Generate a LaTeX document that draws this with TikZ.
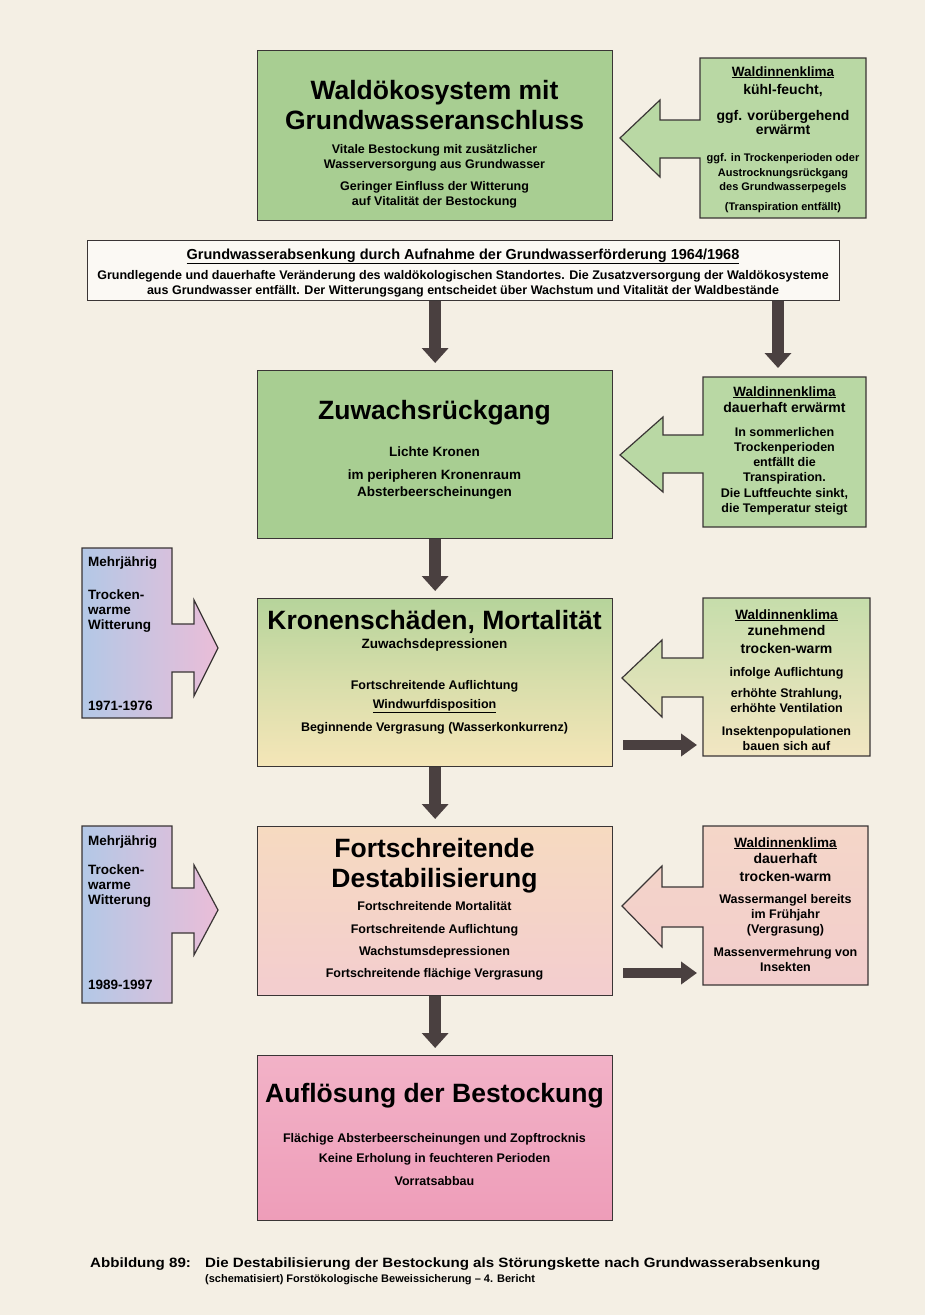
\documentclass[tikz,border=0pt]{standalone}
\usepackage{fontspec}
\setmainfont{Liberation Sans}
\newfontfamily\capfont[FakeStretch=1.12]{Liberation Sans}
\usetikzlibrary{arrows.meta,calc}
\newcommand\fsz[1]{\fontsize{#1}{#1}\selectfont}
\newcommand\TL[5]{\node[anchor=base,inner sep=0pt,#4] (#1) at (#2,#3) {#5};}
\definecolor{bgc}{HTML}{F4EFE4}
\definecolor{bordc}{HTML}{3A3535}
\definecolor{arrc}{HTML}{4A4040}
\definecolor{grA}{HTML}{A8CE92}
\definecolor{grB}{HTML}{B9D8A4}
\definecolor{grC}{HTML}{B6D49B}
\definecolor{ylC}{HTML}{F5E6B8}
\definecolor{grD}{HTML}{C6DDAB}
\definecolor{ylD}{HTML}{F2E6C2}
\definecolor{pkA}{HTML}{F6DAC0}
\definecolor{pkB}{HTML}{F3CDCF}
\definecolor{pkC}{HTML}{F4D6C8}
\definecolor{pkD}{HTML}{F2CDCC}
\definecolor{roA}{HTML}{F2B2C7}
\definecolor{roB}{HTML}{EE9DB9}
\definecolor{blL}{HTML}{B3C8E6}
\definecolor{piR}{HTML}{EABDD8}
\begin{document}
\begin{tikzpicture}[x=1pt,y=-1pt,
  box/.style={draw=bordc,line width=1.3pt,rectangle,inner sep=0pt,anchor=north west},
  shp/.style={draw=bordc,line width=1.2pt,line join=miter},
  ttl/.style={font=\fsz{26.5}\bfseries},
  hd/.style={font=\fsz{14}\bfseries},
  md/.style={font=\fsz{13.5}\bfseries},
  sm/.style={font=\fsz{12.5}\bfseries},
  xs/.style={font=\fsz{11}\bfseries},
  captxt/.style={font=\capfont\fsz{13.5}\bfseries},
  darr/.style={draw=arrc,line width=12pt,-{Triangle[width=26pt,length=15pt]}},
  harr/.style={draw=arrc,line width=10pt,-{Triangle[width=22pt,length=16pt]}}]
\useasboundingbox (0,0) rectangle (925,1315);
\fill[bgc] (0,0) rectangle (925,1315);

% ---------- main boxes ----------
\node[box,fill=grA,minimum width=355,minimum height=170] (b1) at (257,50) {};
\node[box,fill=bgc!40!white,minimum width=752,minimum height=60] (wb) at (87,240) {};
\node[box,fill=grA,minimum width=355,minimum height=168] (b2) at (257,370) {};
\node[box,top color=grC,bottom color=ylC,middle color=ylC!55!grC,minimum width=355,minimum height=168] (b3) at (257,598) {};
\node[box,top color=pkA,bottom color=pkB,minimum width=355,minimum height=169] (b4) at (257,826) {};
\node[box,top color=roA,bottom color=roB,minimum width=355,minimum height=165] (b5) at (257,1055) {};

% ---------- right boxes with arrows ----------
\path[shp,fill=grB] (700,58) -- (866,58) -- (866,218) -- (700,218) -- (700,158) -- (660,158) -- (660,177) -- (620,138) -- (660,100) -- (660,120) -- (700,120) -- cycle;
\path[shp,fill=grB] (703,377) -- (866,377) -- (866,527) -- (703,527) -- (703,473) -- (663,473) -- (663,492) -- (620,455) -- (663,417) -- (663,435) -- (703,435) -- cycle;
\path[shp,top color=grD,bottom color=ylD] (703,598) -- (870,598) -- (870,756) -- (703,756) -- (703,697) -- (662,697) -- (662,717) -- (622,678) -- (662,640) -- (662,658) -- (703,658) -- cycle;
\path[shp,top color=pkC,bottom color=pkD] (703,826) -- (868,826) -- (868,985) -- (703,985) -- (703,927) -- (662,927) -- (662,947) -- (622,906) -- (662,866) -- (662,887) -- (703,887) -- cycle;

% ---------- left boxes with arrows ----------
\path[shp,left color=blL,right color=piR] (82,548) -- (172,548) -- (172,624) -- (194,624) -- (194,600) -- (218,648) -- (194,696) -- (194,672) -- (172,672) -- (172,718) -- (82,718) -- cycle;
\path[shp,left color=blL,right color=piR] (82,826) -- (172,826) -- (172,888) -- (194,888) -- (194,865) -- (218,910) -- (194,955) -- (194,933) -- (172,933) -- (172,1003) -- (82,1003) -- cycle;

% ---------- connectors ----------
\coordinate (rb2n) at (778,377);
\coordinate (h3) at (697,745);
\coordinate (h4) at (697,973);
\draw[darr] (wb.south -| b2.north) -- ($(b2.north)+(0,-7)$);
\draw[darr] (wb.south -| rb2n) -- ($(rb2n)+(0,-9)$);
\draw[darr] (b2.south) -- ($(b3.north)+(0,-7)$);
\draw[darr] (b3.south) -- ($(b4.north)+(0,-7)$);
\draw[darr] (b4.south) -- ($(b5.north)+(0,-7)$);
\draw[harr,shorten <=10pt] (b3.east |- h3) -- (h3);
\draw[harr,shorten <=10pt] (b4.east |- h4) -- (h4);

% ---------- texts: box 1 ----------
\TL{t11}{434.5}{99}{ttl}{Waldökosystem mit}
\TL{t12}{434.5}{129}{ttl}{Grundwasseranschluss}
\TL{t13}{434.5}{153}{sm}{Vitale Bestockung mit zusätzlicher}
\TL{t14}{434.5}{168}{sm}{Wasserversorgung aus Grundwasser}
\TL{t15}{434.5}{190}{sm}{Geringer Einfluss der Witterung}
\TL{t16}{434.5}{205}{sm}{auf Vitalität der Bestockung}
% right box 1
\TL{r11}{783}{76}{md}{\underline{Waldinnenklima}}
\TL{r12}{783}{94}{hd}{kühl-feucht,}
\TL{r13}{783}{120}{hd}{ggf. vorübergehend}
\TL{r14}{783}{134}{hd}{erwärmt}
\TL{r15}{783}{161}{xs}{ggf. in Trockenperioden oder}
\TL{r16}{783}{176}{xs}{Austrocknungsrückgang}
\TL{r17}{783}{190}{xs}{des Grundwasserpegels}
\TL{r18}{783}{210}{xs}{(Transpiration entfällt)}

% wide box
\TL{w1}{463}{259}{hd,font=\fsz{14.5}\bfseries}{\underline{Grundwasserabsenkung durch Aufnahme der Grundwasserförderung 1964/1968}}
\TL{w2}{463}{279}{sm}{Grundlegende und dauerhafte Veränderung des waldökologischen Standortes. Die Zusatzversorgung der Waldökosysteme}
\TL{w3}{463}{294}{sm}{aus Grundwasser entfällt. Der Witterungsgang entscheidet über Wachstum und Vitalität der Waldbestände}

% box 2
\TL{t21}{434.5}{419}{ttl}{Zuwachsrückgang}
\TL{t22}{434.5}{456}{md}{Lichte Kronen}
\TL{t23}{434.5}{479}{md}{im peripheren Kronenraum}
\TL{t24}{434.5}{496}{md}{Absterbeerscheinungen}
% right box 2
\TL{r21}{784.5}{396}{md}{\underline{Waldinnenklima}}
\TL{r22}{784.5}{412}{hd}{dauerhaft erwärmt}
\TL{r23}{784.5}{436}{sm}{In sommerlichen}
\TL{r24}{784.5}{451}{sm}{Trockenperioden}
\TL{r25}{784.5}{466}{sm}{entfällt die}
\TL{r26}{784.5}{481}{sm}{Transpiration.}
\TL{r27}{784.5}{497}{sm}{Die Luftfeuchte sinkt,}
\TL{r28}{784.5}{512}{sm}{die Temperatur steigt}

% box 3
\TL{t31}{434.5}{629}{ttl}{Kronenschäden, Mortalität}
\TL{t32}{434.5}{648}{md}{Zuwachsdepressionen}
\TL{t33}{434.5}{689}{sm}{Fortschreitende Auflichtung}
\TL{t34}{434.5}{708}{sm}{\underline{Windwurfdisposition}}
\TL{t35}{434.5}{731}{sm}{Beginnende Vergrasung (Wasserkonkurrenz)}
% left box 3
\TL{l31}{88}{566}{md,anchor=base west}{Mehrjährig}
\TL{l32}{88}{599}{md,anchor=base west}{Trocken-}
\TL{l33}{88}{614}{md,anchor=base west}{warme}
\TL{l34}{88}{629}{md,anchor=base west}{Witterung}
\TL{l35}{88}{710}{md,anchor=base west}{1971-1976}
% right box 3
\TL{r31}{786.5}{619}{md}{\underline{Waldinnenklima}}
\TL{r32}{786.5}{635}{hd}{zunehmend}
\TL{r33}{786.5}{653}{hd}{trocken-warm}
\TL{r34}{786.5}{676}{sm}{infolge Auflichtung}
\TL{r35}{786.5}{697}{sm}{erhöhte Strahlung,}
\TL{r36}{786.5}{712}{sm}{erhöhte Ventilation}
\TL{r37}{786.5}{735}{sm}{Insektenpopulationen}
\TL{r38}{786.5}{750}{sm}{bauen sich auf}

% box 4
\TL{t41}{434.5}{857}{ttl}{Fortschreitende}
\TL{t42}{434.5}{887}{ttl}{Destabilisierung}
\TL{t43}{434.5}{910}{sm}{Fortschreitende Mortalität}
\TL{t44}{434.5}{933}{sm}{Fortschreitende Auflichtung}
\TL{t45}{434.5}{955}{sm}{Wachstumsdepressionen}
\TL{t46}{434.5}{977}{sm}{Fortschreitende flächige Vergrasung}
% left box 4
\TL{l41}{88}{845}{md,anchor=base west}{Mehrjährig}
\TL{l42}{88}{874}{md,anchor=base west}{Trocken-}
\TL{l43}{88}{889}{md,anchor=base west}{warme}
\TL{l44}{88}{904}{md,anchor=base west}{Witterung}
\TL{l45}{88}{989}{md,anchor=base west}{1989-1997}
% right box 4
\TL{r41}{785.5}{847}{md}{\underline{Waldinnenklima}}
\TL{r42}{785.5}{863}{hd}{dauerhaft}
\TL{r43}{785.5}{881}{hd}{trocken-warm}
\TL{r44}{785.5}{903}{sm}{Wassermangel  bereits}
\TL{r45}{785.5}{918}{sm}{im Frühjahr}
\TL{r46}{785.5}{933}{sm}{(Vergrasung)}
\TL{r47}{785.5}{956}{sm}{Massenvermehrung von}
\TL{r48}{785.5}{971}{sm}{Insekten}

% box 5
\TL{t51}{434.5}{1102}{ttl}{Auflösung der Bestockung}
\TL{t52}{434.5}{1142}{sm}{Flächige Absterbeerscheinungen und Zopftrocknis}
\TL{t53}{434.5}{1162}{sm}{Keine Erholung in feuchteren Perioden}
\TL{t54}{434.5}{1185}{sm}{Vorratsabbau}

% caption
\TL{c1}{90}{1267}{captxt,anchor=base west}{Abbildung 89:}
\TL{c2}{205}{1267}{captxt,anchor=base west}{Die Destabilisierung der Bestockung als Störungskette nach Grundwasserabsenkung}
\TL{c3}{205}{1282}{xs,anchor=base west}{(schematisiert) Forstökologische Beweissicherung – 4. Bericht}
\end{tikzpicture}
\end{document}
